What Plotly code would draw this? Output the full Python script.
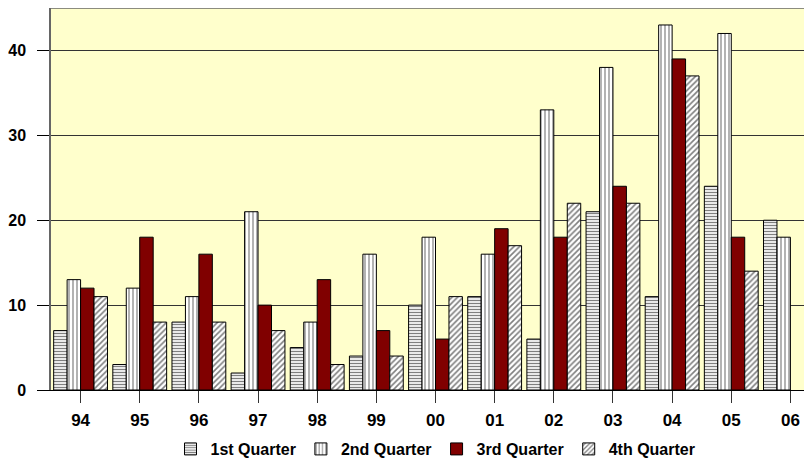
import plotly.graph_objects as go

years = ["94", "95", "96", "97", "98", "99", "00", "01", "02", "03", "04", "05", "06"]
q1 = [7, 3, 8, 2, 5, 4, 10, 11, 6, 21, 11, 24, 20]
q2 = [13, 12, 11, 21, 8, 16, 18, 16, 33, 38, 43, 42, 18]
q3 = [12, 18, 16, 10, 13, 7, 6, 19, 18, 24, 39, 18, None]
q4 = [11, 8, 8, 7, 3, 4, 11, 17, 22, 22, 37, 14, None]
series_names = ["1st Quarter", "2nd Quarter", "3rd Quarter", "4th Quarter"]
y_ticks = [0, 10, 20, 30, 40]

FONT = "Arial, 'Liberation Sans', sans-serif"

fig = go.Figure()
fig.add_trace(go.Bar(
    x=years, y=q1, name=series_names[0],
    marker=dict(color="white", line=dict(color="black", width=1),
                pattern=dict(shape="-", fgcolor="black", bgcolor="white", size=3, solidity=0.45)),
))
fig.add_trace(go.Bar(
    x=years, y=q2, name=series_names[1],
    marker=dict(color="white", line=dict(color="black", width=1),
                pattern=dict(shape="|", fgcolor="black", bgcolor="white", size=4, solidity=0.3)),
))
fig.add_trace(go.Bar(
    x=years, y=q3, name=series_names[2],
    marker=dict(color="#800000", line=dict(color="black", width=1)),
))
fig.add_trace(go.Bar(
    x=years, y=q4, name=series_names[3],
    marker=dict(color="white", line=dict(color="black", width=1),
                pattern=dict(shape="/", fgcolor="black", bgcolor="white", size=4, solidity=0.4)),
))

fig.update_layout(
    width=812, height=461,
    margin=dict(l=43, r=0, t=0, b=79, autoexpand=False),
    paper_bgcolor="white",
    plot_bgcolor="#FFFFCC",
    barmode="group",
    bargap=0.09,
    bargroupgap=0,
    font=dict(family=FONT, size=17, color="black"),
    showlegend=True,
    legend=dict(
        orientation="h", x=0.5, xanchor="center", y=-0.1545, yanchor="middle",
        font=dict(family=FONT, size=16, color="black", weight="bold"),
        itemwidth=30, tracegroupgap=0,
    ),
    xaxis=dict(
        type="category", range=[-0.5, 12.5],
        showgrid=False, showline=True, linecolor="black", linewidth=1,
        ticks="outside", ticklen=12, tickcolor="#333333",
        tickfont=dict(family=FONT, size=17, color="black", weight="bold"),
        ticklabelstandoff=3,
    ),
    yaxis=dict(
        range=[0, 45], tickvals=y_ticks,
        showgrid=True, gridcolor="#333333", gridwidth=1,
        showline=True, linecolor="#666666", linewidth=1.5,
        ticks="outside", ticklen=12, tickcolor="black",
        tickfont=dict(family=FONT, size=16, color="black", weight="bold"),
        ticklabelstandoff=8,
        zeroline=False,
    ),
    shapes=[dict(type="line", xref="paper", yref="paper", x0=0, x1=1, y0=1, y1=1,
                 line=dict(color="#666666", width=1.5))],
)

fig.write_html("out.html")
